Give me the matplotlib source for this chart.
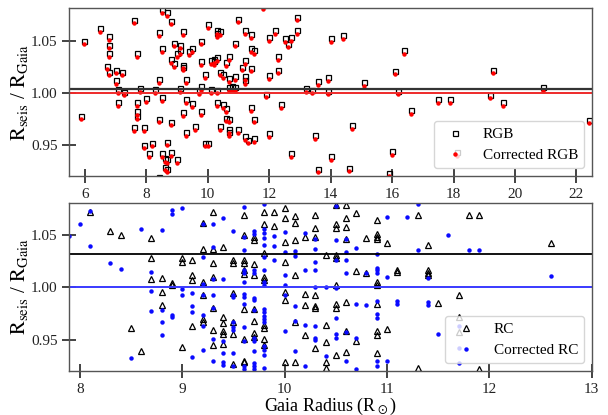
import matplotlib
matplotlib.use("Agg")
import matplotlib.pyplot as plt

plt.rcParams['font.family'] = ['Liberation Serif', 'DejaVu Serif']
plt.rcParams['mathtext.fontset'] = 'stix'

# ---- RGB sample: Gaia radius, R_seis/R_Gaia before and after correction ----
rgb_radius = [
    5.98, 5.89, 6.49, 6.80, 6.80, 6.80, 6.71, 6.80, 7.00, 7.00,
    7.20, 7.09, 7.29, 7.09, 7.60, 7.71, 7.80, 7.71, 7.71, 7.71,
    7.60, 7.91, 8.00, 7.91, 8.10, 8.20, 8.29, 8.40, 8.40, 8.40,
    8.50, 8.50, 8.50, 8.50, 8.60, 8.60, 8.69, 8.69, 8.69, 8.69,
    8.80, 8.80, 8.80, 8.80, 8.90, 8.90, 9.00, 9.00, 9.10, 9.10,
    9.10, 9.21, 9.21, 9.21, 9.21, 9.30, 9.30, 9.30, 9.40, 9.50,
    9.50, 9.60, 9.70, 9.78, 9.78, 9.78, 9.78, 9.90, 9.90, 10.00,
    10.00, 10.10, 10.10, 10.20, 10.20, 10.30, 10.30, 10.30, 10.30, 10.30,
    10.40, 10.40, 10.40, 10.50, 10.50, 10.60, 10.60, 10.60, 10.70, 10.70,
    10.70, 10.70, 10.70, 10.70, 10.80, 10.90, 10.90, 10.90, 11.00, 11.00,
    11.10, 11.20, 11.20, 11.20, 11.20, 11.20, 11.30, 11.40, 11.40, 11.40,
    11.40, 11.50, 11.50, 11.50, 11.81, 11.90, 12.00, 12.00, 12.00, 12.20,
    12.30, 12.30, 12.40, 12.50, 12.60, 12.70, 12.70, 12.90, 12.90, 13.20,
    13.40, 13.50, 13.60, 13.60, 13.90, 13.90, 14.00, 14.00, 14.40, 14.60,
    14.70, 15.10, 15.90, 16.00, 16.10, 16.20, 16.40, 16.60, 17.50, 17.90,
    18.10, 19.20, 19.30, 19.60, 20.90, 22.40, 8.40,
]
rgb_ratio = [
    1.050, 0.978, 1.062, 1.054, 1.046, 1.038, 1.026, 1.020, 1.022, 1.012,
    1.020, 1.0035, 1.001, 0.991, 1.070, 1.038, 1.004, 0.991, 0.982, 0.978,
    0.967, 0.967, 0.995, 0.950, 0.942, 0.952, 1.0035, 1.058, 1.013, 0.975,
    1.080, 1.043, 0.9955, 0.942, 0.937, 0.929, 1.077, 0.936, 0.953, 0.927,
    1.069, 1.032, 0.972, 0.943, 1.048, 1.028, 1.038, 0.936, 1.046, 1.041,
    1.004, 1.059, 1.027, 1.025, 0.981, 1.013, 0.994, 0.962, 1.040, 1.043,
    0.990, 0.968, 1.0025, 1.006, 1.050, 1.030, 0.982, 1.018, 0.952, 0.952,
    1.066, 1.031, 1.0035, 1.032, 1.030, 1.034, 1.060, 1.057, 1.003, 0.991,
    1.059, 1.020, 0.968, 1.018, 0.989, 1.029, 0.985, 0.976, 1.035, 1.014,
    1.005, 0.975, 0.965, 0.962, 1.006, 1.048, 1.016, 1.005, 1.071, 0.965,
    1.025, 1.060, 1.031, 1.016, 1.012, 0.958, 0.955, 1.056, 1.043, 1.024,
    0.986, 1.041, 0.975, 0.956, 1.084, 0.999, 1.053, 1.017, 0.961, 1.060,
    1.035, 1.022, 0.989, 1.052, 1.047, 1.053, 0.942, 1.073, 1.060, 1.004,
    1.003, 0.959, 1.011, 0.927, 1.015, 1.002, 1.052, 0.939, 1.055, 0.928,
    0.969, 1.010, 0.923, 0.944, 1.021, 1.002, 1.041, 0.983, 0.994, 0.994,
    0.943, 0.998, 1.022, 0.991, 1.005, 0.974, 0.919,
]
rgb_ratio_corr = [
    1.0465, 0.9745, 1.0585, 1.0505, 1.0425, 1.0345, 1.0225, 1.0165, 1.0185, 1.0085,
    1.0165, 1.0000, 0.9975, 0.9875, 1.0665, 1.0345, 1.0005, 0.9875, 0.9785, 0.9745,
    0.9635, 0.9635, 0.9915, 0.9465, 0.9385, 0.9485, 1.0000, 1.0545, 1.0095, 0.9715,
    1.0765, 1.0395, 0.9920, 0.9385, 0.9335, 0.9255, 1.0735, 0.9325, 0.9495, 0.9235,
    1.0655, 1.0285, 0.9685, 0.9395, 1.0445, 1.0245, 1.0345, 0.9325, 1.0425, 1.0375,
    1.0005, 1.0555, 1.0235, 1.0215, 0.9775, 1.0095, 0.9905, 0.9585, 1.0365, 1.0395,
    0.9865, 0.9645, 0.9990, 1.0025, 1.0465, 1.0265, 0.9785, 1.0145, 0.9485, 0.9485,
    1.0625, 1.0275, 1.0000, 1.0285, 1.0265, 1.0305, 1.0565, 1.0535, 0.9995, 0.9875,
    1.0555, 1.0165, 0.9645, 1.0145, 0.9855, 1.0255, 0.9815, 0.9725, 1.0315, 1.0105,
    1.0015, 0.9715, 0.9615, 0.9585, 1.0025, 1.0445, 1.0125, 1.0015, 1.0675, 0.9615,
    1.0215, 1.0565, 1.0275, 1.0125, 1.0085, 0.9545, 0.9515, 1.0525, 1.0395, 1.0205,
    0.9825, 1.0375, 0.9715, 0.9525, 1.0805, 0.9955, 1.0495, 1.0135, 0.9575, 1.0565,
    1.0315, 1.0185, 0.9855, 1.0485, 1.0435, 1.0495, 0.9385, 1.0695, 1.0565, 1.0005,
    0.9995, 0.9555, 1.0075, 0.9235, 1.0115, 0.9985, 1.0485, 0.9355, 1.0515, 0.9245,
    0.9655, 1.0065, 0.9195, 0.9405, 1.0175, 0.9985, 1.0375, 0.9795, 0.9905, 0.9905,
    0.9395, 0.9945, 1.0185, 0.9875, 1.0015, 0.9705, 0.9155,
]

# ---- RC sample ----
rc_radius = [
    8.1, 8.3, 8.4, 8.5, 8.6, 8.7, 8.7, 8.7, 8.8, 8.8,
    8.8, 8.9, 8.9, 9.0, 9.0, 9.0, 9.1, 9.1, 9.1, 9.1,
    9.2, 9.2, 9.2, 9.2, 9.2, 9.2, 9.3, 9.3, 9.3, 9.3,
    9.3, 9.3, 9.3, 9.4, 9.4, 9.4, 9.4, 9.4, 9.4, 9.5,
    9.5, 9.5, 9.5, 9.5, 9.5, 9.6, 9.6, 9.6, 9.6, 9.6,
    9.6, 9.6, 9.6, 9.6, 9.6, 9.7, 9.7, 9.7, 9.7, 9.7,
    9.7, 9.7, 9.7, 9.8, 9.8, 9.8, 9.8, 9.8, 9.8, 9.8,
    9.8, 9.8, 9.9, 9.9, 10.0, 10.0, 10.0, 10.0, 10.0, 10.0,
    10.0, 10.1, 10.1, 10.1, 10.1, 10.1, 10.1, 10.2, 10.2, 10.2,
    10.2, 10.3, 10.3, 10.3, 10.3, 10.3, 10.3, 10.3, 10.4, 10.4,
    10.4, 10.4, 10.4, 10.5, 10.5, 10.5, 10.5, 10.5, 10.5, 10.5,
    10.5, 10.5, 10.6, 10.6, 10.6, 10.6, 10.6, 10.6, 10.6, 10.7,
    10.7, 10.7, 10.8, 10.8, 10.9, 10.9, 10.9, 10.9, 10.9, 10.9,
    10.9, 10.9, 10.9, 10.9, 11.0, 11.0, 11.1, 11.1, 11.3, 11.3,
    11.4, 11.4, 11.4, 11.4, 11.5, 11.7, 11.7, 11.7, 11.8, 11.9,
    11.9, 12.6,
]
rc_ratio = [
    1.072, 1.054, 1.050, 0.961, 0.939, 1.047, 1.028, 1.008, 1.009, 0.996,
    0.983, 1.004, 1.002, 1.028, 1.024, 0.943, 1.026, 1.012, 1.007, 0.963,
    1.062, 1.037, 1.005, 0.993, 0.970, 0.967, 1.072, 1.037, 1.023, 1.010,
    0.980, 0.959, 0.945, 1.039, 0.972, 0.966, 0.958, 0.955, 0.946, 1.026,
    1.023, 0.995, 0.967, 0.955, 0.927, 1.069, 1.050, 1.026, 1.023, 1.017,
    1.013, 0.979, 0.951, 0.930, 0.929, 1.048, 1.045, 1.022, 1.012, 0.979,
    0.968, 0.956, 0.953, 1.072, 1.061, 1.033, 1.0095, 1.007, 0.964, 0.961,
    0.951, 0.945, 1.072, 1.0585, 1.076, 1.066, 1.043, 1.024, 0.996, 0.988,
    0.929, 1.068, 1.062, 1.045, 1.012, 0.967, 0.929, 1.048, 0.994, 0.983,
    0.954, 1.069, 1.057, 1.048, 0.993, 0.982, 0.980, 0.942, 1.031, 0.964,
    0.948, 0.929, 0.923, 1.079, 1.061, 1.057, 1.031, 1.028, 1.002, 0.984,
    0.980, 0.935, 1.079, 1.066, 1.058, 1.046, 0.986, 0.958, 0.938, 1.071,
    1.016, 0.949, 1.047, 1.014, 1.064, 1.051, 1.048, 1.046, 1.005, 1.002,
    0.984, 0.958, 0.954, 0.937, 1.042, 0.960, 1.017, 1.015, 1.069, 0.923,
    1.041, 1.017, 1.014, 1.012, 0.985, 0.993, 0.972, 0.957, 1.069, 1.069,
    0.922, 1.042,
]

rc_corr_radius = [
    7.9, 8.0, 8.1, 8.1, 8.3, 8.4, 8.5, 8.6, 8.7, 8.7,
    8.7, 8.8, 8.8, 8.8, 8.8, 8.9, 8.9, 8.9, 8.9, 9.0,
    9.0, 9.0, 9.1, 9.1, 9.1, 9.1, 9.2, 9.2, 9.2, 9.2,
    9.2, 9.2, 9.2, 9.3, 9.3, 9.3, 9.3, 9.3, 9.3, 9.3,
    9.4, 9.4, 9.4, 9.4, 9.4, 9.4, 9.5, 9.5, 9.5, 9.5,
    9.5, 9.5, 9.5, 9.5, 9.6, 9.6, 9.6, 9.6, 9.6, 9.6,
    9.6, 9.6, 9.6, 9.6, 9.6, 9.6, 9.6, 9.7, 9.7, 9.7,
    9.7, 9.7, 9.7, 9.7, 9.7, 9.7, 9.7, 9.7, 9.7, 9.7,
    9.8, 9.8, 9.8, 9.8, 9.8, 9.8, 9.8, 9.8, 9.8, 9.8,
    9.8, 9.8, 9.8, 9.8, 9.8, 9.8, 9.8, 9.8, 9.9, 9.9,
    9.9, 10.0, 10.0, 10.0, 10.0, 10.0, 10.0, 10.1, 10.1, 10.1,
    10.1, 10.1, 10.2, 10.2, 10.2, 10.2, 10.3, 10.3, 10.3, 10.3,
    10.3, 10.3, 10.3, 10.3, 10.4, 10.4, 10.5, 10.5, 10.5, 10.5,
    10.5, 10.5, 10.5, 10.6, 10.6, 10.6, 10.6, 10.6, 10.6, 10.7,
    10.7, 10.7, 10.7, 10.8, 10.8, 10.9, 10.9, 10.9, 10.9, 10.9,
    10.9, 10.9, 10.9, 10.9, 11.0, 11.0, 11.0, 11.1, 11.1, 11.2,
    11.3, 11.3, 11.4, 11.4, 11.4, 11.5, 11.6, 11.7, 11.7, 11.7,
    11.8, 11.9, 12.6,
]
rc_corr_ratio = [
    1.049, 1.061, 1.073, 1.040, 1.023, 1.018, 0.932, 1.056, 1.015, 0.9965,
    0.9775, 1.055, 0.9785, 0.9665, 0.954, 1.074, 1.0705, 0.974, 0.9715, 1.076,
    0.998, 0.993, 0.995, 0.982, 0.976, 0.933, 1.061, 1.029, 1.003, 0.993,
    0.974, 0.963, 0.940, 1.061, 1.0386, 1.008, 0.993, 0.980, 0.951, 0.930,
    1.066, 1.008, 0.949, 0.9375, 0.929, 0.926, 1.054, 0.993, 0.991, 0.9665,
    0.962, 0.959, 0.9375, 0.925, 1.077, 1.048, 1.036, 1.017, 1.014, 1.005,
    0.994, 0.991, 0.984, 0.962, 0.949, 0.925, 0.922, 1.054, 1.051, 1.017,
    1.014, 0.990, 0.988, 0.978, 0.952, 0.949, 0.939, 0.928, 0.925, 0.922,
    1.080, 1.056, 1.052, 1.047, 1.041, 1.029, 1.017, 1.005, 1.002, 0.979,
    0.976, 0.973, 0.970, 0.967, 0.944, 0.940, 0.935, 0.923, 1.0496, 1.0395,
    1.0266, 1.053, 1.034, 1.012, 1.002, 0.993, 0.958, 1.0345, 1.030, 0.982,
    0.968, 0.939, 1.052, 1.017, 0.964, 0.925, 1.0465, 1.0364, 1.0244, 1.0165,
    1.000, 0.963, 0.952, 0.950, 1.000, 0.934, 1.078, 1.0455, 1.026, 0.9997,
    0.971, 0.9555, 0.952, 1.046, 1.034, 1.026, 1.014, 0.957, 0.9295, 1.038,
    0.984, 0.952, 0.922, 1.014, 0.983, 1.032, 1.019, 1.0165, 1.014, 0.987,
    0.975, 0.971, 0.930, 0.925, 1.067, 1.0095, 0.930, 0.987, 0.984, 1.067,
    1.080, 1.036, 1.009, 0.986, 0.983, 0.9555, 1.050, 0.963, 0.942, 0.928,
    1.036, 1.036, 1.011,
]

# median ratios drawn as horizontal reference lines
rgb_median, rgb_corr_median = 1.0038, 1.000
rc_median, rc_corr_median = 1.0315, 1.000

top_xticks = [6, 8, 10, 12, 14, 16, 18, 20, 22]
bottom_xticks = [8, 9, 10, 11, 12, 13]
yticks = [0.95, 1.00, 1.05]

fig = plt.figure(figsize=(6.08, 4.15), dpi=100)
ax1 = fig.add_axes([0.1143, 0.576, 0.859, 0.404])
ax2 = fig.add_axes([0.1143, 0.106, 0.859, 0.4055])

ax1.plot(rgb_radius, rgb_ratio, ls='none', marker='s', ms=3.6, mfc='none',
         mec='black', mew=0.9, label='RGB')
ax1.plot(rgb_radius, rgb_ratio_corr, ls='none', marker='o', ms=3.2,
         color='#ff0000', mec='none', label='Corrected RGB')
ax1.axhline(rgb_median, color='#333333', lw=1.6)
ax1.axhline(rgb_corr_median, color='#ee2a2a', lw=1.4)

ax2.plot(rc_radius, rc_ratio, ls='none', marker='^', ms=3.8, mfc='none',
         mec='black', mew=0.9, label='RC')
ax2.plot(rc_corr_radius, rc_corr_ratio, ls='none', marker='o', ms=3.2,
         color='#0a0aff', mec='none', label='Corrected RC')
ax2.axhline(rc_median, color='black', lw=1.3)
ax2.axhline(rc_corr_median, color='#3a3aff', lw=1.4)

ax1.set_xlim(5.5, 22.5)
ax2.set_xlim(7.9, 13.0)
for ax, xt in ((ax1, top_xticks), (ax2, bottom_xticks)):
    ax.set_ylim(0.92, 1.081)
    ax.set_xticks(xt)
    ax.set_yticks(yticks)
    ax.set_yticklabels(['%.2f' % v for v in yticks])
    ax.tick_params(direction='inout', length=10, width=1.2, labelsize=11,
                   colors='#222222', labelcolor='#222222')
    for sp in ax.spines.values():
        sp.set_color('#555555')
        sp.set_linewidth(1.0)
    ax.set_ylabel(r'$\mathrm{R_{seis}}$ / $\mathrm{R_{Gaia}}$', fontsize=15)
    ax.yaxis.set_label_coords(-0.076, 0.5)
    ax.legend(loc='lower right', fontsize=11, numpoints=1)

ax2.set_xlabel(r'Gaia Radius (R$_\odot$)', fontsize=13, labelpad=0)
ax2.xaxis.set_label_coords(0.5, -0.145)

fig.savefig('out.png', dpi=100)
